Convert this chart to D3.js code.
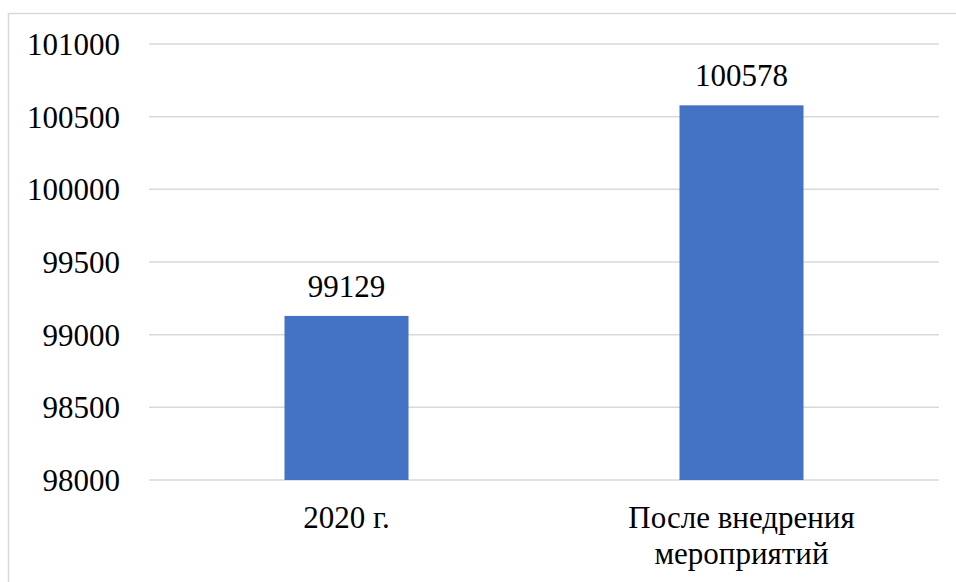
<!DOCTYPE html>
<html>
<head>
<meta charset="utf-8">
<script src="https://cdn.jsdelivr.net/npm/d3@7"></script>
<style>
	body { margin: 0; background: #fff; }
</style>
</head>
<body>
<svg width="956" height="582"></svg>
<script>
var categories = [["2020 г."], ["После внедрения", "мероприятий"]];
var values = [99129, 100578];
var yTicks = [98000, 98500, 99000, 99500, 100000, 100500, 101000];

var fontFamily = "'Liberation Serif', 'Times New Roman', serif";
var fontSize = 31;

var svg = d3.select("svg")
	.style("font-family", fontFamily);

// chart frame
svg.append("rect")
	.attr("x", 8.5)
	.attr("y", 13.5)
	.attr("width", 960)
	.attr("height", 600)
	.attr("fill", "none")
	.attr("stroke", "#d9d9d9")
	.attr("stroke-width", 1.5);

var plotLeft = 149, plotRight = 939, plotTop = 44, plotBottom = 480;

var y = d3.scaleLinear()
	.domain([98000, 101000])
	.range([plotBottom, plotTop]);

var x = d3.scaleBand()
	.domain(d3.range(values.length))
	.range([plotLeft, plotRight])
	.paddingInner(0.686)
	.paddingOuter(0.343);

// gridlines
svg.append("g")
	.selectAll("line")
	.data(yTicks)
	.join("line")
	.attr("x1", plotLeft)
	.attr("x2", plotRight)
	.attr("y1", function(d) { return y(d); })
	.attr("y2", function(d) { return y(d); })
	.attr("stroke", "#d9d9d9")
	.attr("stroke-width", 1.5);

// y tick labels
svg.append("g")
	.selectAll("text")
	.data(yTicks)
	.join("text")
	.attr("x", 120)
	.attr("y", function(d) { return y(d); })
	.attr("dy", "0.35em")
	.attr("text-anchor", "end")
	.attr("font-size", fontSize)
	.attr("fill", "#000")
	.text(function(d) { return d; });

// bars
svg.append("g")
	.selectAll("rect")
	.data(values)
	.join("rect")
	.attr("x", function(d, i) { return x(i); })
	.attr("y", function(d) { return y(d); })
	.attr("width", x.bandwidth())
	.attr("height", function(d) { return y(98000) - y(d); })
	.attr("fill", "#4472c4");

// value labels
svg.append("g")
	.selectAll("text")
	.data(values)
	.join("text")
	.attr("x", function(d, i) { return x(i) + x.bandwidth() / 2; })
	.attr("y", function(d) { return y(d) - 19; })
	.attr("text-anchor", "middle")
	.attr("font-size", fontSize)
	.attr("fill", "#000")
	.text(function(d) { return d; });

// category labels
var cat = svg.append("g")
	.selectAll("text")
	.data(categories)
	.join("text")
	.attr("x", function(d, i) { return x(i) + x.bandwidth() / 2; })
	.attr("y", 528)
	.attr("text-anchor", "middle")
	.attr("font-size", fontSize)
	.attr("fill", "#000");

cat.selectAll("tspan")
	.data(function(d) { return d; })
	.join("tspan")
	.attr("x", function() { return d3.select(this.parentNode).attr("x"); })
	.attr("dy", function(d, i) { return i === 0 ? 0 : 36; })
	.text(function(d) { return d; });
</script>
</body>
</html>
